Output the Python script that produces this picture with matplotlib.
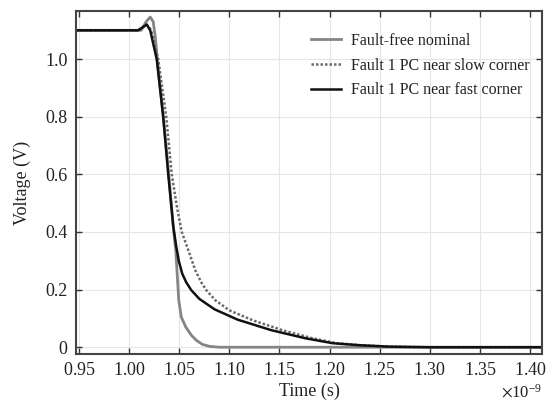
import matplotlib
matplotlib.use("Agg")
import matplotlib.pyplot as plt
import numpy as np
from matplotlib.ticker import ScalarFormatter

plt.rcParams['font.family'] = ['Liberation Serif', 'DejaVu Serif']
plt.rcParams['mathtext.fontset'] = 'stix'

# time in ns (scaled by 1e-9 when plotted)
t_nominal = [0.947, 1.012, 1.017, 1.021, 1.024, 1.026, 1.028, 1.034, 1.0395, 1.0445,
             1.0465, 1.048, 1.0495, 1.052, 1.0565, 1.062, 1.067, 1.073, 1.080, 1.090, 1.412]
v_nominal = [1.10, 1.10, 1.13, 1.146, 1.13, 1.08, 1.00, 0.80, 0.60, 0.40,
             0.337, 0.25, 0.163, 0.105, 0.07, 0.042, 0.024, 0.01, 0.003, 0.0, 0.0]

t_slow = [0.947, 1.009, 1.0175, 1.022, 1.029, 1.037, 1.0425, 1.048, 1.0525, 1.059, 1.066,
          1.072, 1.077, 1.086, 1.100, 1.123, 1.153, 1.183, 1.207, 1.230, 1.260, 1.300, 1.412]
v_slow = [1.10, 1.10, 1.12, 1.10, 1.00, 0.80, 0.60, 0.48, 0.40, 0.337, 0.267,
          0.225, 0.198, 0.163, 0.128, 0.094, 0.059, 0.031, 0.014, 0.007, 0.002, 0.0, 0.0]

t_fast = [0.947, 1.009, 1.0175, 1.021, 1.0275, 1.034, 1.039, 1.044, 1.047, 1.0495, 1.053,
          1.057, 1.062, 1.070, 1.085, 1.108, 1.142, 1.176, 1.203, 1.230, 1.260, 1.300, 1.412]
v_fast = [1.10, 1.10, 1.12, 1.10, 1.00, 0.80, 0.60, 0.42, 0.35, 0.30, 0.255,
          0.225, 0.198, 0.168, 0.132, 0.096, 0.059, 0.031, 0.014, 0.007, 0.002, 0.0, 0.0]

labels = ["Fault-free nominal", "Fault 1 PC near slow corner", "Fault 1 PC near fast corner"]
x_ticks = [0.95, 1.00, 1.05, 1.10, 1.15, 1.20, 1.25, 1.30, 1.35, 1.40]
y_ticks = [0, 0.2, 0.4, 0.6, 0.8, 1.0]
y_ticklabels = ["0", "0.2", "0.4", "0.6", "0.8", "1.0"]

fig = plt.figure(figsize=(5.47, 4.08), dpi=100)
ax = fig.add_axes([0.139, 0.132, 0.852, 0.841])

sc = 1e-9
ax.plot(np.array(t_nominal) * sc, v_nominal, color='#858585', lw=2.0, label=labels[0])
ax.plot(np.array(t_slow) * sc, v_slow, color='#6a6a6a', lw=1.8, linestyle=(0, (1, 0.8)), label=labels[1])
ax.plot(np.array(t_fast) * sc, v_fast, color='#111111', lw=1.8, label=labels[2])

ax.set_xlim(0.947e-9, 1.412e-9)
ax.set_ylim(-0.024, 1.167)
ax.set_xticks(np.array(x_ticks) * sc)
fmt = ScalarFormatter(useMathText=True)
fmt.set_powerlimits((-3, 3))
ax.xaxis.set_major_formatter(fmt)
ax.set_yticks(y_ticks)
ax.set_yticklabels(y_ticklabels)

ax.grid(True, color='#e6e6e6', lw=0.8)
ax.tick_params(direction='in', top=True, right=True, length=4, width=1.0,
               labelsize=13, colors='#333333', labelcolor='#222222', pad=6)
for s in ax.spines.values():
    s.set_color('#444444')
    s.set_linewidth(1.5)
ax.xaxis.get_offset_text().set_fontsize(12)

ax.set_xlabel("Time (s)", fontsize=13, color='#222222', labelpad=2)
ax.set_ylabel("Voltage (V)", fontsize=13, color='#222222', labelpad=10)

leg = ax.legend(loc='upper left', bbox_to_anchor=(0.49, 0.955), frameon=False,
                fontsize=11.5, handlelength=1.9, handletextpad=0.6, labelspacing=0.55,
                borderaxespad=0)
for t in leg.get_texts():
    t.set_color('#222222')

fig.savefig("out.png", dpi=100)
